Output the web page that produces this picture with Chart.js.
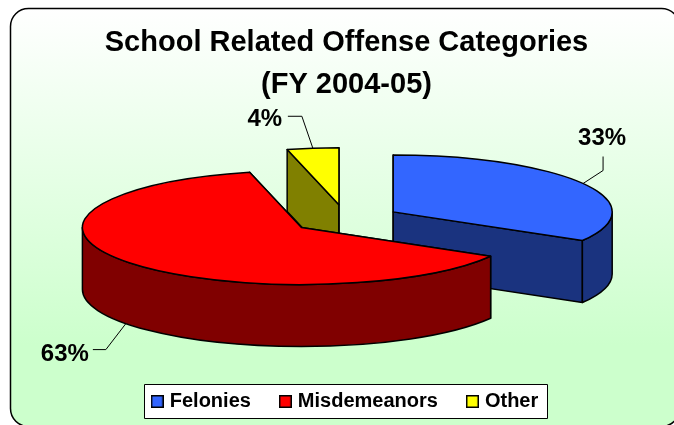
<!DOCTYPE html>
<html>
<head>
<meta charset="utf-8">
<style>
  html, body { margin: 0; padding: 0; background: #fff; }
  canvas { display: block; }
</style>
<script src="https://cdn.jsdelivr.net/npm/chart.js@4/dist/chart.umd.min.js"></script>
</head>
<body>
<canvas id="chart" width="674" height="425"></canvas>
<script>
  const categories = ['Felonies', 'Misdemeanors', 'Other'];
  const shares = [33.4, 62.8, 3.8];
  const titleLines = ['School Related Offense Categories', '(FY 2004-05)'];
  const topColors = ['#3366FF', '#FF0000', '#FFFF00'];
  const wallColors = ['#1A337F', '#800000', '#808000'];

  const fontFamily = '"Liberation Sans", Arial, sans-serif';
  const tilt = 0.26;       // height/width of the flattened pie
  const depth = 62;        // wall height in px
  const pieShiftX = -1;    // pie is a little left of the title and legend
  const pieCenterY = 219;  // pie sits above the middle of the plot area
  const drawOrder = [2, 0, 1]; // back to front

  // leader bends and label anchors, relative to where the leader leaves the slice
  const leaders = [
    { bend: [[20, -13], [20, -27]], text: [19, -45], wall: false },
    { bend: [[-20, 26], [-33, 26]], text: [-61, 31], wall: true },
    { bend: [[-11, -32], [-25, -32]], text: [-48, -29], wall: false }
  ];

  function sliceInfo(arc){
    const p = arc.getProps(['x', 'y', 'startAngle', 'endAngle', 'outerRadius'], true);
    const mid = (p.startAngle + p.endAngle) / 2;
    return {
      cx: p.x + pieShiftX + Math.cos(mid) * arc.options.offset,
      cy: pieCenterY + Math.sin(mid) * arc.options.offset * tilt,
      rx: p.outerRadius,
      ry: p.outerRadius * tilt,
      start: p.startAngle,
      end: p.endAngle,
      mid: mid
    };
  }

  function edgePoint(s, a){
    return [s.cx + s.rx * Math.cos(a), s.cy + s.ry * Math.sin(a)];
  }

  function fillStroke(ctx, color){
    ctx.fillStyle = color;
    ctx.fill();
    ctx.stroke();
  }

  function drawFace(ctx, s, a, color){
    const e = edgePoint(s, a);
    ctx.beginPath();
    ctx.moveTo(s.cx, s.cy);
    ctx.lineTo(e[0], e[1]);
    ctx.lineTo(e[0], e[1] + depth);
    ctx.lineTo(s.cx, s.cy + depth);
    ctx.closePath();
    fillStroke(ctx, color);
  }

  function drawSlice(ctx, s, top, wall){
    ctx.lineWidth = 1.5;
    ctx.strokeStyle = '#000';
    ctx.lineJoin = 'round';
    drawFace(ctx, s, s.start, wall);
    drawFace(ctx, s, s.end, wall);
    // outer wall, only the part that faces the viewer
    const a0 = Math.max(s.start, 0), a1 = Math.min(s.end, Math.PI);
    if (a1 > a0) {
      ctx.beginPath();
      ctx.ellipse(s.cx, s.cy, s.rx, s.ry, 0, a0, a1);
      ctx.ellipse(s.cx, s.cy + depth, s.rx, s.ry, 0, a1, a0, true);
      ctx.closePath();
      fillStroke(ctx, wall);
    }
    ctx.beginPath();
    ctx.moveTo(s.cx, s.cy);
    ctx.ellipse(s.cx, s.cy, s.rx, s.ry, 0, s.start, s.end);
    ctx.closePath();
    fillStroke(ctx, top);
  }

  // legend marker as a small canvas, so the text can sit closer than boxWidth allows
  function legendMarker(color){
    const c = document.createElement('canvas');
    c.width = 13; c.height = 13;
    const x = c.getContext('2d');
    x.fillStyle = color;
    x.fillRect(1, 1, 11, 11);
    x.lineWidth = 1.5;
    x.strokeStyle = '#000';
    x.strokeRect(0.75, 0.75, 11.5, 11.5);
    return c;
  }

  const panel = {
    id: 'panel',
    beforeDraw(chart){
      const ctx = chart.ctx;
      const g = ctx.createLinearGradient(0, 8, 0, 345);
      g.addColorStop(0, '#FFFFFF');
      g.addColorStop(1, '#CCFFCC');
      ctx.save();
      ctx.beginPath();
      ctx.roundRect(10.5, 8.5, 669, 418, 18);
      ctx.fillStyle = g;
      ctx.fill();
      ctx.lineWidth = 1.5;
      ctx.strokeStyle = '#000';
      ctx.stroke();
      // white box behind the legend
      const boxes = chart.legend.legendHitBoxes;
      const last = boxes[boxes.length - 1];
      const midY = Math.round(boxes[0].top + boxes[0].height / 2);
      const left = Math.round(boxes[0].left - 11) + 0.5;
      const right = Math.round(last.left + last.width + 9) + 0.5;
      ctx.beginPath();
      ctx.rect(left, midY - 17.5, right - left, 34);
      ctx.fillStyle = '#fff';
      ctx.fill();
      ctx.lineWidth = 1;
      ctx.stroke();
      ctx.restore();
    }
  };

  const pie3d = {
    id: 'pie3d',
    beforeDatasetsDraw(chart){
      const ctx = chart.ctx;
      const arcs = chart.getDatasetMeta(0).data;
      ctx.save();
      drawOrder.forEach(i => {
        drawSlice(ctx, sliceInfo(arcs[i]), topColors[i], wallColors[i]);
      });
      // leaders and percent labels
      ctx.lineWidth = 1;
      ctx.strokeStyle = '#000';
      ctx.fillStyle = '#000';
      ctx.font = 'bold 24px ' + fontFamily;
      ctx.textAlign = 'center';
      ctx.textBaseline = 'middle';
      arcs.forEach((arc, i) => {
        const s = sliceInfo(arc);
        const l = leaders[i];
        const e = edgePoint(s, s.mid);
        const y0 = e[1] + (l.wall ? depth : 0);
        ctx.beginPath();
        ctx.moveTo(e[0], y0);
        l.bend.forEach(b => ctx.lineTo(e[0] + b[0], y0 + b[1]));
        ctx.stroke();
        ctx.fillText(Math.round(shares[i]) + '%', e[0] + l.text[0], y0 + l.text[1]);
      });
      ctx.restore();
      return false;
    }
  };

  new Chart(document.getElementById('chart'), {
    type: 'pie',
    data: {
      labels: categories,
      datasets: [{
        data: shares,
        backgroundColor: topColors,
        borderColor: '#000',
        borderWidth: 1.5,
        offset: 55
      }]
    },
    options: {
      responsive: false,
      animation: false,
      radius: 219,
      layout: { padding: { left: 19, bottom: 3.5, top: 22 } },
      plugins: {
        tooltip: { enabled: false },
        title: {
          display: true,
          text: titleLines,
          color: '#000',
          font: { family: fontFamily, size: 29, weight: 'bold', lineHeight: 1.45 },
          padding: 0
        },
        legend: {
          position: 'bottom',
          labels: {
            usePointStyle: true,
            pointStyleWidth: 5,
            boxHeight: 13,
            padding: 32,
            color: '#000',
            font: { family: fontFamily, size: 20, weight: 'bold' },
            generateLabels(chart){
              const items = Chart.overrides.pie.plugins.legend.labels.generateLabels(chart);
              items.forEach((item, i) => { item.pointStyle = legendMarker(topColors[i]); });
              return items;
            }
          }
        }
      }
    },
    plugins: [panel, pie3d]
  });
</script>
</body>
</html>
